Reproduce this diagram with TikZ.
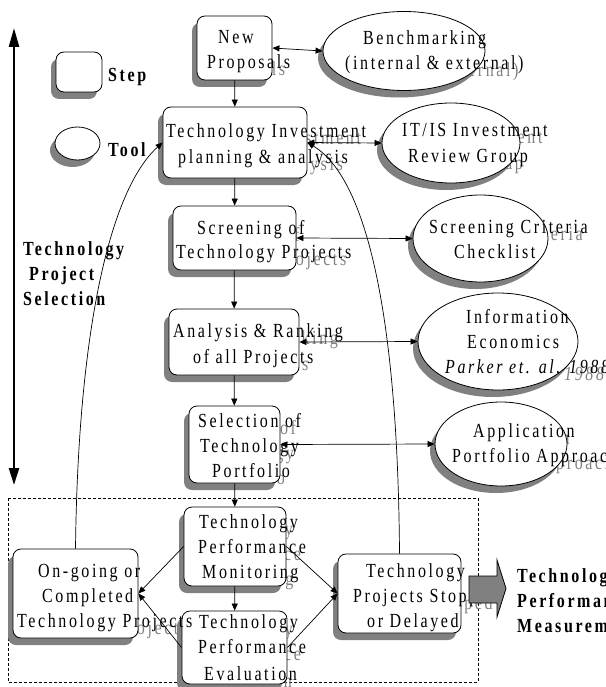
\documentclass[tikz,border=0pt]{standalone}
\usepackage{fontspec}
\setmainfont{Liberation Serif}[FakeStretch=0.8,LetterSpace=13]
\usetikzlibrary{arrows.meta,shadows,shapes.geometric}
\definecolor{shade}{HTML}{808080}
\tikzset{
  x=1pt,y=-1pt,
  lbl/.style={inner sep=0pt,anchor=base west,font=\fontsize{20}{25}\selectfont},
  ghost/.style={lbl,text=shade,xshift=-5pt,yshift=-7pt},
  ink/.style={lbl,text=black},
  boldlbl/.style={lbl,font=\fontsize{20}{25}\selectfont\bfseries},
  shd/.style={drop shadow={shadow xshift=-5pt,shadow yshift=-7pt,opacity=1,fill=shade}},
  stepbox/.style={draw,fill=white,rounded corners=8pt,inner sep=0pt,shd,line width=0.8pt},
  toolell/.style={draw,fill=white,ellipse,inner sep=0pt,shd,line width=0.8pt},
  conn/.style={line width=0.7pt,-{Triangle[length=7pt,width=6pt]}},
  dconn/.style={line width=0.7pt,{Triangle[length=7pt,width=6pt]}-{Triangle[length=7pt,width=6pt]}},
}
\newcommand\shapetexts[2]{%
  \node[#1] (#2np1) at (218,44) {New};
  \node[#1] (#2np2) at (207,69) {Proposals};
  \node[#1] (#2ti1) at (166,138) {Technology Investment};
  \node[#1] (#2ti2) at (178,164) {planning \& analysis};
  \node[#1] (#2sc1) at (197,234) {Screening of};
  \node[#1] (#2sc2) at (176,258) {Technology Projects};
  \node[#1] (#2ar1) at (173,337) {Analysis \& Ranking};
  \node[#1] (#2ar2) at (193,363) {of all Projects};
  \node[#1] (#2se1) at (198,427) {Selection of};
  \node[#1] (#2se2) at (200,452) {Technology};
  \node[#1] (#2se3) at (212,477) {Portfolio};
  \node[#1] (#2mo1) at (199,528) {Technology};
  \node[#1] (#2mo2) at (198,553) {Performance};
  \node[#1] (#2mo3) at (202,578) {Monitoring};
  \node[#1] (#2ev1) at (199,628) {Technology};
  \node[#1] (#2ev2) at (198,653) {Performance};
  \node[#1] (#2ev3) at (204,680) {Evaluation};
  \node[#1] (#2og1) at (38,577) {On-going or};
  \node[#1] (#2og2) at (42,602) {Completed};
  \node[#1] (#2og3) at (17,627) {Technology Projects};
  \node[#1] (#2st1) at (366,577) {Technology};
  \node[#1] (#2st2) at (353,602) {Projects Stopped};
  \node[#1] (#2st3) at (367,627) {or Delayed};
  \node[#1] (#2bm1) at (363,45) {Benchmarking};
  \node[#1] (#2bm2) at (345,70) {(internal \& external)};
  \node[#1] (#2it1) at (402,137) {IT/IS Investment};
  \node[#1] (#2it2) at (408,162) {Review Group};
  \node[#1] (#2cc1) at (429,233) {Screening Criteria};
  \node[#1] (#2cc2) at (454,258) {Checklist};
  \node[#1] (#2ie1) at (466,323) {Information};
  \node[#1] (#2ie2) at (467,348) {Economics};
  \node[#1] (#2ie3) at (445,373) {\itshape Parker et. al. 1988};
  \node[#1] (#2ap1) at (473,437) {Application};
  \node[#1] (#2ap2) at (452,462) {Portfolio Approach};
}
\begin{document}
\begin{tikzpicture}
\clip (0,0) rectangle (605,687);
% dashed frame
\draw[line width=0.8pt,dash pattern=on 3pt off 2pt] (8,498) rectangle (478,682);
% text shadows
\shapetexts{ghost}{g}
% steps
\node[stepbox,minimum width=75pt,minimum height=64pt] (np) at (234.5,48) {};
\node[stepbox,minimum width=144pt,minimum height=71pt] (ti) at (235,142.5) {};
\node[stepbox,minimum width=123pt,minimum height=64pt] (sc) at (234.5,238) {};
\node[stepbox,minimum width=130pt,minimum height=66pt] (ar) at (234,342) {};
\node[stepbox,minimum width=91pt,minimum height=77pt] (sel) at (234.5,444.5) {};
\node[stepbox,minimum width=102pt,minimum height=79pt] (mon) at (235,546.5) {};
\node[stepbox,minimum width=105pt,minimum height=73pt] (ev) at (234.5,647.5) {};
\node[stepbox,minimum width=125pt,minimum height=89pt] (og) at (75.5,593.5) {};
\node[stepbox,minimum width=123pt,minimum height=79pt] (st) at (399.5,593.5) {};
\node[stepbox,minimum width=46pt,minimum height=40pt] (legstep) at (79,72) {};
% tools
\node[toolell,minimum width=162pt,minimum height=79pt] (bm) at (404,51) {};
\node[toolell,minimum width=138pt,minimum height=80pt] (it) at (451,143) {};
\node[toolell,minimum width=135pt,minimum height=87pt] (scc) at (480.5,238.5) {};
\node[toolell,minimum width=160pt,minimum height=97pt] (ie) at (498,341.5) {};
\node[toolell,minimum width=132pt,minimum height=84pt] (ap) at (501,444) {};
\node[toolell,minimum width=45pt,minimum height=33pt] (legtool) at (77.5,143.5) {};
% connectors
\draw[conn] (np) -- (ti);
\draw[conn] (ti) -- (sc);
\draw[conn] (sc) -- (ar);
\draw[conn] (ar) -- (sel);
\draw[conn] (sel) -- (mon);
\draw[conn] (mon) -- (ev);
\draw[dconn] (np.east) -- (bm.west);
\draw[dconn] (ti.east) -- (it.west);
\draw[dconn] (sc.east) -- (scc.west);
\draw[dconn] (ar.east) -- (ie.west);
\draw[dconn] (sel.east) -- (ap.west);
\draw[conn] (mon.west) -- (og.east);
\draw[conn] (ev.west) -- (og.east);
\draw[conn] (mon.east) -- (st.west);
\draw[conn] (ev.east) -- (st.west);
\draw[conn] (og.north) .. controls (78,330) and (110,190) .. (ti.west);
\draw[conn] (st.north) .. controls (398,330) and (370,180) .. (ti.east);
% texts
\shapetexts{ink}{k}
\node[boldlbl] (lstep) at (108,82) {Step};
\node[boldlbl] (ltool) at (108,157) {Tool};
\node[boldlbl] (sel1) at (23,255) {Technology};
\node[boldlbl] (sel2) at (29,280) {Project};
\node[boldlbl] (sel3) at (23,305) {Selection};
\node[boldlbl] (pm1) at (517,582) {Technology};
\node[boldlbl] (pm2) at (517,607) {Performance};
\node[boldlbl] (pm3) at (517,632) {Measurement};
% fat arrow
\draw[line width=0.8pt,fill=shade] (469,576) -- (497,576) -- (497,560) -- (506,588.5) -- (497,617) -- (497,603) -- (469,603) -- cycle;
% left thick arrow
\coordinate (lt) at (14,28);
\coordinate (lb) at (14,485);
\draw[line width=2.5pt,{Triangle[length=19pt,width=10pt]}-{Triangle[length=17pt,width=10pt]}] (lt) -- (lb);
\end{tikzpicture}
\end{document}
